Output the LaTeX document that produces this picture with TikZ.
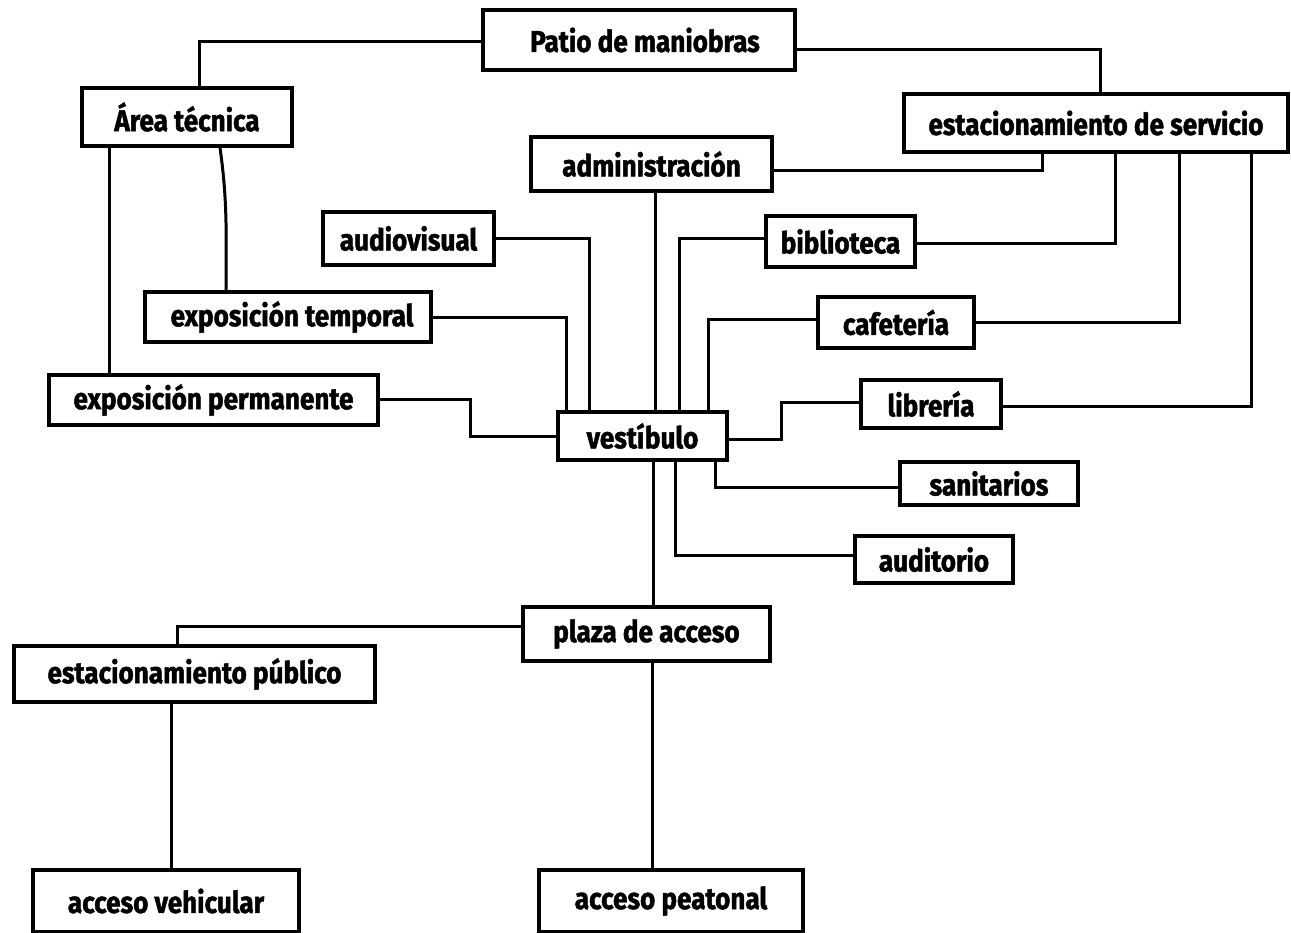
\documentclass[tikz,border=0pt]{standalone}
\usepackage{fontspec}
\setmainfont{Fira Sans}[FakeStretch=0.87,BoldFeatures={FakeBold=1.6}]
\begin{document}
\begin{tikzpicture}[x=1pt,y=-1pt,
  box/.style={draw,line width=3.3pt,inner sep=0pt,font=\fontsize{30}{32}\selectfont\bfseries},
  link/.style={line width=3pt}]
\useasboundingbox (0,0) rectangle (1291,933);
\node[box,minimum width=312pt,minimum height=60pt] (patio) at (639,40) {\hspace{12pt}Patio de maniobras};
\node[box,minimum width=210pt,minimum height=58pt] (area) at (187,117) {Área técnica};
\node[box,minimum width=384pt,minimum height=58pt] (servicio) at (1096,123) {estacionamiento de servicio};
\node[box,minimum width=241pt,minimum height=54pt] (admin) at (651.5,164) {administración};
\node[box,minimum width=171pt,minimum height=53pt] (audio) at (408.5,238.5) {audiovisual};
\node[box,minimum width=149pt,minimum height=51pt] (biblio) at (840.5,241.5) {biblioteca};
\node[box,minimum width=286pt,minimum height=50pt] (exptemp) at (288,317) {\hspace{8pt}exposición temporal};
\node[box,minimum width=156pt,minimum height=51pt] (cafe) at (896,322.5) {cafetería};
\node[box,minimum width=329pt,minimum height=50pt] (expperm) at (213.5,400) {exposición permanente};
\node[box,minimum width=169pt,minimum height=48pt] (vest) at (642.5,436) {vestíbulo};
\node[box,minimum width=140pt,minimum height=48pt] (libreria) at (931,404) {librería\hspace{18pt}};
\node[box,minimum width=178pt,minimum height=43pt] (sanit) at (989,483.5) {sanitarios};
\node[box,minimum width=158pt,minimum height=47pt] (audit) at (934,559.5) {auditorio};
\node[box,minimum width=247pt,minimum height=54pt] (plaza) at (646.5,634) {plaza de acceso};
\node[box,minimum width=361pt,minimum height=56pt] (estpub) at (194.5,674) {estacionamiento público};
\node[box,minimum width=266pt,minimum height=62pt] (accveh) at (166,901) {acceso vehicular};
\node[box,minimum width=264pt,minimum height=62pt] (accpeat) at (671,901) {acceso peatonal};

% connectors
\draw[link] ([yshift=-2pt]patio.west) -| ([xshift=12pt]area.north);
\draw[link] ([yshift=-10pt]patio.east) -| ([xshift=4pt]servicio.north);
\draw[link] ([xshift=-78pt]area.south) -- ([xshift=-78pt]area.south |- expperm.north);
\draw[link] ([xshift=33pt]area.south) to[out=-82,in=90] ([xshift=-62pt]exptemp.north);
\draw[link] ([yshift=-7pt]admin.east) -| ([xshift=-54pt]servicio.south);
\draw[link] ([xshift=3.5pt]admin.south) -- ([xshift=3.5pt]admin.south |- vest.north);
\draw[link] (audio.east) -| ([xshift=-53.5pt]vest.north);
\draw[link] ([yshift=-1pt]exptemp.east) -| ([xshift=-76.5pt]vest.north);
\draw[link] ([yshift=1pt]expperm.east) -- ++(91pt,0) |- (vest.west);
\draw[link] ([yshift=2.5pt]biblio.west) -| ([xshift=36.5pt]vest.north);
\draw[link] ([yshift=-2.5pt]biblio.east) -| ([xshift=19pt]servicio.south);
\draw[link] ([yshift=2.5pt]cafe.west) -| ([xshift=65.5pt]vest.north);
\draw[link] (cafe.east) -| ([xshift=83pt]servicio.south);
\draw[link] ([yshift=-2pt]libreria.east) -| ([xshift=155pt]servicio.south);
\draw[link] ([yshift=-3pt]vest.east) -| ([xshift=-78pt,yshift=2pt]libreria.west) -- ([yshift=2pt]libreria.west);
\draw[link] ([xshift=72.5pt]vest.south) |- ([yshift=-3.5pt]sanit.west);
\draw[link] ([xshift=32.5pt]vest.south) |- ([yshift=4.5pt]audit.west);
\draw[link] ([xshift=10.5pt]vest.south) -- ([xshift=10.5pt]vest.south |- plaza.north);
\draw[link] ([yshift=8pt]plaza.west) -| ([xshift=-17.5pt]estpub.north);
\draw[link] ([xshift=-23.5pt]estpub.south) -- ([xshift=-23.5pt]estpub.south |- accveh.north);
\draw[link] ([xshift=5.5pt]plaza.south) -- ([xshift=5.5pt]plaza.south |- accpeat.north);
\end{tikzpicture}
\end{document}
